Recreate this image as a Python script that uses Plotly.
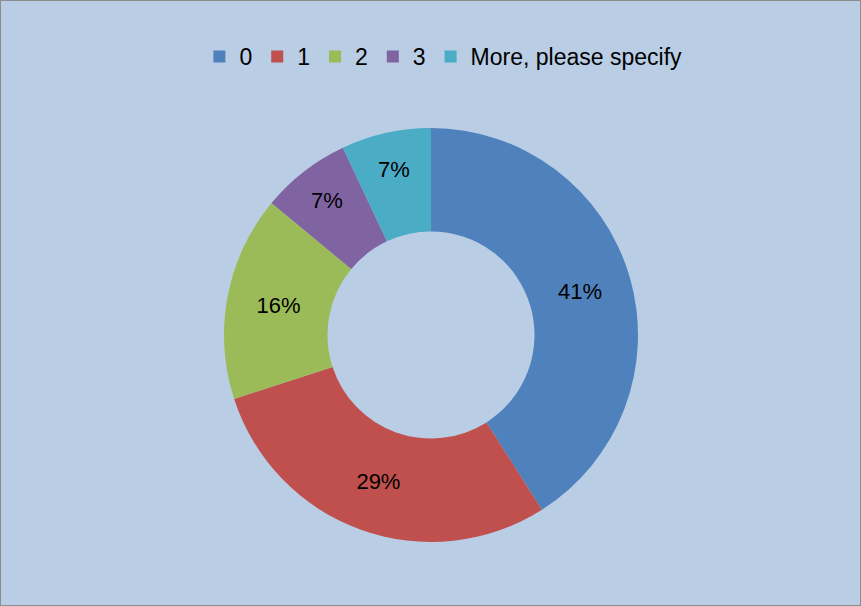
import plotly.graph_objects as go

labels = ["0", "1", "2", "3", "More, please specify"]
values = [41, 29, 16, 7, 7]
colors = ["#4F81BD", "#C0504D", "#9BBB59", "#8064A2", "#4BACC6"]

W, H = 861, 606
fig = go.Figure(go.Pie(
    labels=labels, values=values, hole=0.5, sort=False, direction="clockwise",
    rotation=0,
    marker=dict(colors=colors, line=dict(width=0)),
    texttemplate="%{percent:.0%}", textposition="inside",
    insidetextorientation="horizontal",
    textfont=dict(size=22, color="black", family="Liberation Sans"),
    domain=dict(x=[224 / W, 638 / W], y=[(H - 542) / H, (H - 128) / H]),
))
fig.update_layout(
    width=W, height=H, margin=dict(l=0, r=0, t=0, b=0),
    paper_bgcolor="#B9CDE5", plot_bgcolor="#B9CDE5",
    font=dict(family="Liberation Sans", size=22, color="black"),
    showlegend=True,
    legend=dict(orientation="h", x=0.515, xanchor="center", y=1 - 35 / H, yanchor="top",
                font=dict(size=23), itemwidth=30, traceorder="normal",
                bgcolor="rgba(0,0,0,0)"),
    shapes=[dict(type="rect", xref="paper", yref="paper", x0=0, x1=1, y0=0, y1=1,
                 line=dict(color="#8C8C8C", width=2))],
)
fig.write_html("out.html", config={"displayModeBar": False},
               post_script="document.body.style.margin='0';document.body.style.padding='0';")
